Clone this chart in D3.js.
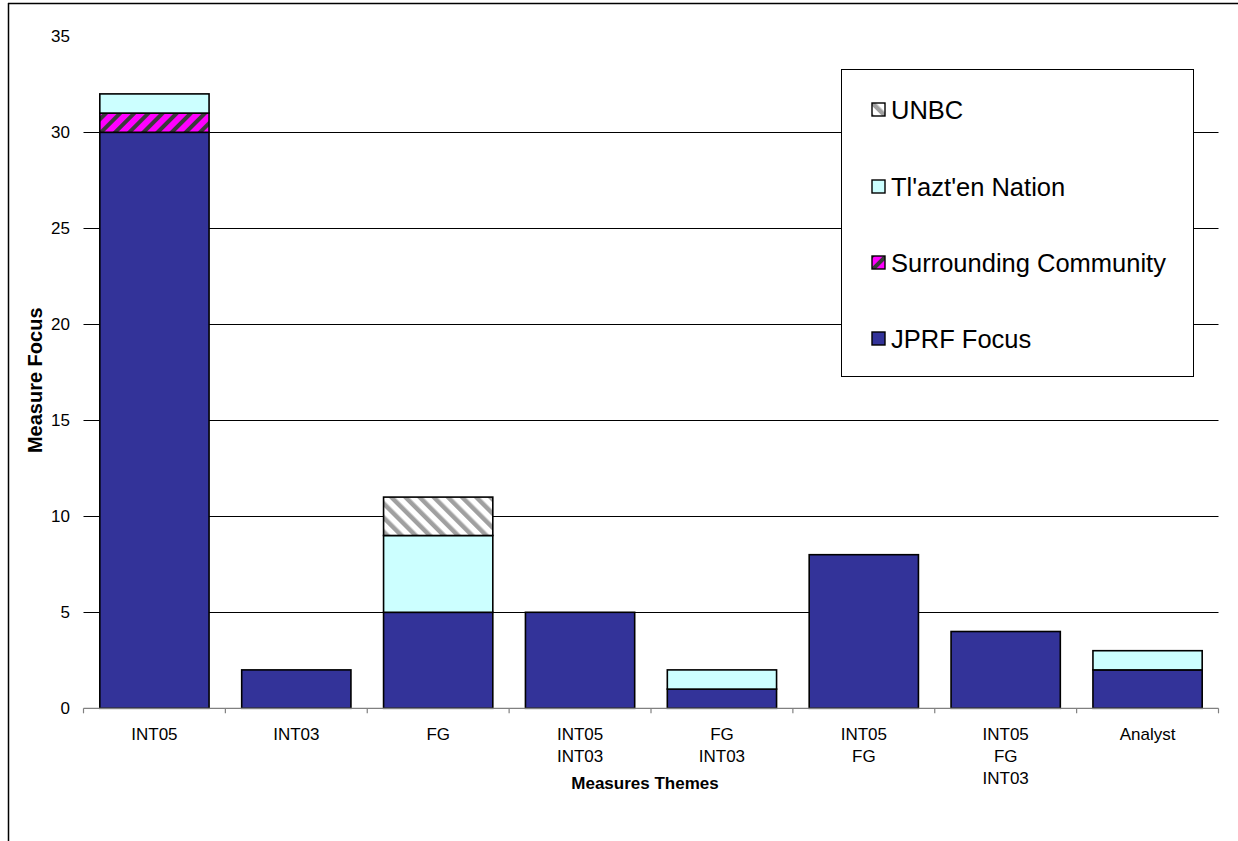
<!DOCTYPE html>
<html>
<head>
<meta charset="utf-8">
<script src="https://cdn.jsdelivr.net/npm/d3@7"></script>
<style>
  html, body { margin: 0; padding: 0; background: #fff; }
  svg { display: block; font-family: "Liberation Sans", Arial, sans-serif; }
</style>
</head>
<body>
<svg id="chart" width="1238" height="841"></svg>
<script>
// Categories (multi-line theme labels) and stacked series
const categories = [
  ["INT05"], ["INT03"], ["FG"], ["INT05", "INT03"], ["FG", "INT03"],
  ["INT05", "FG"], ["INT05", "FG", "INT03"], ["Analyst"]
];
const jprfFocus        = [30, 2, 5, 5, 1, 8, 4, 2];
const surroundingComm  = [1, 0, 0, 0, 0, 0, 0, 0];
const tlaztenNation    = [1, 0, 4, 0, 1, 0, 0, 1];
const unbc             = [0, 0, 2, 0, 0, 0, 0, 0];
const seriesNames = ["JPRF Focus", "Surrounding Community", "Tl'azt'en Nation", "UNBC"];
const yTicks = [0, 5, 10, 15, 20, 25, 30, 35];

const svg = d3.select("#chart");

// Fill patterns for hatched series
const defs = svg.append("defs");
const hatchUnbc = defs.append("pattern")
  .attr("id", "hatch-unbc").attr("patternUnits", "userSpaceOnUse")
  .attr("width", 10).attr("height", 10)
  .attr("patternTransform", "rotate(45)");
hatchUnbc.append("rect").attr("width", 10).attr("height", 10).attr("fill", "#fff");
hatchUnbc.append("rect").attr("width", 10).attr("height", 4.5).attr("y", 2.5).attr("fill", "#a0a0a0");

const hatchComm = defs.append("pattern")
  .attr("id", "hatch-comm").attr("patternUnits", "userSpaceOnUse")
  .attr("width", 10).attr("height", 10)
  .attr("patternTransform", "rotate(-45)");
hatchComm.append("rect").attr("width", 10).attr("height", 10).attr("fill", "#ff00ff");
hatchComm.append("rect").attr("width", 10).attr("height", 4).attr("y", 3).attr("fill", "#3a3a3a");

const fills = {
  "JPRF Focus": "#333399",
  "Surrounding Community": "url(#hatch-comm)",
  "Tl'azt'en Nation": "#ccffff",
  "UNBC": "url(#hatch-unbc)"
};

// Outer chart frame (top and left edges)
svg.append("line").attr("x1", 8).attr("x2", 1238).attr("y1", 3.5).attr("y2", 3.5)
  .attr("stroke", "#000").attr("stroke-width", 1.5);
svg.append("line").attr("x1", 8.5).attr("x2", 8.5).attr("y1", 3).attr("y2", 841)
  .attr("stroke", "#000").attr("stroke-width", 1.5);

const plot = { left: 83.5, right: 1218.5, top: 36.3, bottom: 708.3 };

const x = d3.scaleBand()
  .domain(d3.range(categories.length))
  .range([plot.left, plot.right])
  .paddingInner(0.23).paddingOuter(0.115);

const y = d3.scaleLinear().domain([0, 35]).range([plot.bottom, plot.top]);

// Horizontal gridlines
svg.append("g").selectAll("line")
  .data(yTicks.filter(v => v > 0 && v < 35))
  .join("line")
  .attr("x1", plot.left).attr("x2", plot.right)
  .attr("y1", d => Math.round(y(d)) + 0.5).attr("y2", d => Math.round(y(d)) + 0.5)
  .attr("stroke", "#000").attr("stroke-width", 1);

// Y tick labels
svg.append("g").selectAll("text")
  .data(yTicks)
  .join("text")
  .attr("x", 70).attr("y", d => y(d) + 6)
  .attr("text-anchor", "end")
  .attr("font-size", 17)
  .text(d => d);

// Stacked bars
const rows = categories.map((c, i) => ({
  i,
  "JPRF Focus": jprfFocus[i],
  "Surrounding Community": surroundingComm[i],
  "Tl'azt'en Nation": tlaztenNation[i],
  "UNBC": unbc[i]
}));
const stacked = d3.stack().keys(seriesNames)(rows);

svg.append("g").selectAll("g")
  .data(stacked)
  .join("g")
  .attr("fill", d => fills[d.key])
  .selectAll("rect")
  .data(d => d.filter(s => s[1] - s[0] > 0))
  .join("rect")
  .attr("x", d => x(d.data.i))
  .attr("width", x.bandwidth())
  .attr("y", d => y(d[1]))
  .attr("height", d => y(d[0]) - y(d[1]))
  .attr("stroke", "#000").attr("stroke-width", 1.6);

// X axis baseline and category ticks
svg.append("line")
  .attr("x1", plot.left).attr("x2", plot.right)
  .attr("y1", plot.bottom).attr("y2", plot.bottom)
  .attr("stroke", "#808080").attr("stroke-width", 1.2);
svg.append("g").selectAll("line")
  .data(d3.range(categories.length + 1))
  .join("line")
  .attr("x1", d => plot.left + d * (plot.right - plot.left) / categories.length)
  .attr("x2", d => plot.left + d * (plot.right - plot.left) / categories.length)
  .attr("y1", plot.bottom).attr("y2", plot.bottom + 5)
  .attr("stroke", "#808080").attr("stroke-width", 1.2);

// Category labels
const catText = svg.append("g").selectAll("text")
  .data(categories)
  .join("text")
  .attr("x", (d, i) => x(i) + x.bandwidth() / 2)
  .attr("y", 740)
  .attr("text-anchor", "middle")
  .attr("font-size", 17);
catText.selectAll("tspan")
  .data(d => d)
  .join("tspan")
  .attr("x", function () { return d3.select(this.parentNode).attr("x"); })
  .attr("dy", (d, j) => j === 0 ? 0 : 22)
  .text(d => d);

// Axis titles
svg.append("text")
  .attr("x", (plot.left + plot.right) / 2 - 6).attr("y", 789)
  .attr("text-anchor", "middle")
  .attr("font-size", 17).attr("font-weight", "bold")
  .text("Measures Themes");
svg.append("text")
  .attr("transform", `translate(42, ${(plot.top + plot.bottom) / 2 + 8}) rotate(-90)`)
  .attr("text-anchor", "middle")
  .attr("font-size", 20).attr("font-weight", "bold")
  .text("Measure Focus");

// Legend
const legend = svg.append("g");
legend.append("rect")
  .attr("x", 841.5).attr("y", 69.5).attr("width", 352).attr("height", 307)
  .attr("fill", "#fff").attr("stroke", "#000").attr("stroke-width", 1);
const legendOrder = ["UNBC", "Tl'azt'en Nation", "Surrounding Community", "JPRF Focus"];
const legendY = [110, 187, 263, 339];
const li = legend.selectAll("g.item")
  .data(legendOrder)
  .join("g").attr("class", "item")
  .attr("transform", (d, i) => `translate(872, ${legendY[i]})`);
li.append("rect")
  .attr("x", 0).attr("y", -7).attr("width", 13).attr("height", 13)
  .attr("fill", d => fills[d]).attr("stroke", "#000").attr("stroke-width", 1.4);
li.append("text")
  .attr("x", 19).attr("y", 9)
  .attr("font-size", 25.5)
  .text(d => d);
</script>
</body>
</html>
